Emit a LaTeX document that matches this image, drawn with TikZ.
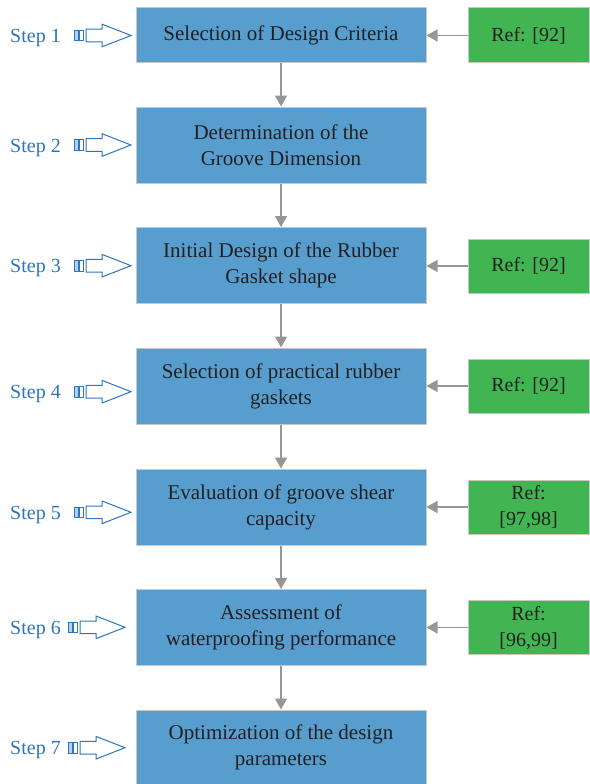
\documentclass[tikz,border=0pt]{standalone}
\usepackage{fontspec}
\setmainfont{Liberation Serif}
\usetikzlibrary{arrows.meta}
\definecolor{boxblue}{RGB}{87,158,207}
\definecolor{refgreen}{RGB}{64,181,82}
\definecolor{stepblue}{RGB}{46,117,189}
\definecolor{arrowgray}{RGB}{150,150,150}
\definecolor{edgegray}{RGB}{200,200,200}
\definecolor{txtdark}{RGB}{35,31,32}

\begin{document}
\begin{tikzpicture}[
  x=1pt, y=-1pt,
  every node/.style={font=\fontsize{20}{26}\selectfont, text=txtdark},
  stage/.style={draw=edgegray, line width=1pt, fill=boxblue, align=center, minimum width=290pt, minimum height=76pt, inner sep=0pt, font=\fontsize{21}{26}\selectfont},
  ref/.style={draw=edgegray, line width=1pt, fill=refgreen, align=center, minimum width=121pt, minimum height=54pt, inner sep=0pt},
  steplabel/.style={text=stepblue, anchor=base west, inner sep=0pt},
  flow/.style={-{Triangle[length=11pt,width=12pt]}, draw=arrowgray, line width=1.5pt},
  stepmark/.pic={
    \draw[stepblue, line width=1pt, fill=stepblue!35] (-57,-5.3) rectangle (-52.5,5.3);
    \draw[stepblue, line width=1pt, fill=white] (-51.7,-5.3) rectangle (-47.2,5.3);
    \draw[stepblue, line width=1pt, fill=white, line join=miter] (-45,-6.3) -- (-29,-6.3) -- (-29,-11.3) -- (0,0) -- (-29,11.3) -- (-29,6.3) -- (-45,6.3) -- cycle;
  }
]
  \useasboundingbox (0,0) rectangle (589,784);

  \node[stage, minimum height=55pt] (s1) at (281,35.5) {Selection of Design Criteria};
  \node[stage] (s2) at (281,145) {Determination of the\\Groove Dimension};
  \node[stage] (s3) at (281,265.5) {Initial Design of the Rubber\\Gasket shape};
  \node[stage] (s4) at (281,386) {Selection of practical rubber\\gaskets};
  \node[stage] (s5) at (281,507) {Evaluation of groove shear\\capacity};
  \node[stage] (s6) at (281,627.5) {Assessment of\\waterproofing performance};
  \node[stage, minimum height=74pt] (s7) at (281,747) {Optimization of the design\\parameters};

  \node[ref, minimum height=55pt] (r1) at (528.5,35.5) {Ref: [92]};
  \node[ref] (r3) at (528.5,266) {Ref: [92]};
  \node[ref] (r4) at (528.5,386) {Ref: [92]};
  \node[ref] (r5) at (528.5,507) {Ref:\\{}[97,98]};
  \node[ref] (r6) at (528.5,627.5) {Ref:\\{}[96,99]};

  \foreach \n/\y/\tip in {1/35.5/131, 2/145/131, 3/265.7/131, 4/391.7/131, 5/512.3/131, 6/627.3/125, 7/747.7/125} {
    \node[steplabel] (step\n) at (10,\y+7) {Step \n};
    \pic at (\tip,\y) {stepmark};
  }

  \draw[flow] (s1) -- (s2);
  \draw[flow] (s2) -- (s3);
  \draw[flow] (s3) -- (s4);
  \draw[flow] (s4) -- (s5);
  \draw[flow] (s5) -- (s6);
  \draw[flow] (s6) -- (s7);

  \draw[flow] (r1.west) -- (s1.east |- r1.west);
  \draw[flow] (r3.west) -- (s3.east |- r3.west);
  \draw[flow] (r4.west) -- (s4.east |- r4.west);
  \draw[flow] (r5.west) -- (s5.east |- r5.west);
  \draw[flow] (r6.west) -- (s6.east |- r6.west);
\end{tikzpicture}
\end{document}
